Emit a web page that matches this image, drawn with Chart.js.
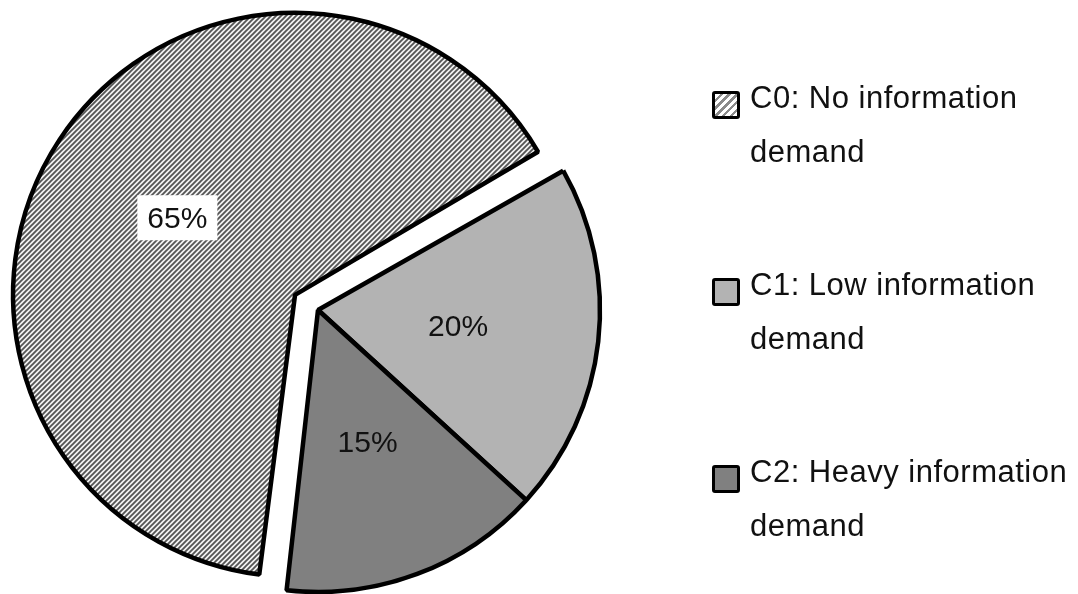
<!DOCTYPE html>
<html lang="en">
<head>
  <meta charset="UTF-8">
  <title>Information demand</title>
  <script src="https://cdn.jsdelivr.net/npm/chart.js"></script>
  <style>
    html, body {
      margin: 0;
      padding: 0;
      background: #fff;
    }
    #wrap {
      position: relative;
      width: 1078px;
      height: 594px;
    }
    #legend {
      position: absolute;
      left: 712px;
      top: 71px;
      font-family: "Liberation Sans", Arial, sans-serif;
      font-size: 31px;
      letter-spacing: 0.5px;
      color: #111;
    }
    .item {
      position: relative;
      height: 187px;
      padding-left: 38px;
      line-height: 54px;
    }
    .box {
      position: absolute;
      left: 0;
      top: 20px;
      width: 22px;
      height: 22px;
      border: 3.5px solid #000;
      border-radius: 3px;
    }
  </style>
</head>
<body>
  <div id="wrap">
    <canvas id="pie" width="1078" height="594"></canvas>
    <div id="legend"></div>
  </div>

  <script>
    // datos
    const categorias = ['C0: No information demand', 'C1: Low information demand', 'C2: Heavy information demand'];
    const lineasLeyenda = [['C0: No information', 'demand'], ['C1: Low information', 'demand'], ['C2: Heavy information', 'demand']];
    const porcentajes = [65, 20, 15];
    const etiquetas = ['65%', '20%', '15%'];

    // patron rayado para C0
    function rayado() {
      const c = document.createElement('canvas');
      c.width = 5;
      c.height = 5;
      const g = c.getContext('2d');
      g.fillStyle = '#fff';
      g.fillRect(0, 0, 5, 5);
      g.strokeStyle = '#4d4d4d';
      g.lineWidth = 1.9;
      g.beginPath();
      g.moveTo(-1, 6); g.lineTo(6, -1);
      g.moveTo(-1, 1); g.lineTo(1, -1);
      g.moveTo(4, 6); g.lineTo(6, 4);
      g.stroke();
      return g.createPattern(c, 'repeat');
    }

    const ctx = document.getElementById('pie').getContext('2d');
    const colores = [rayado(), '#b3b3b3', '#808080'];

    // Chart.js agranda el arco desplazado; se corrige para que quede del mismo radio
    const radioFijo = {
      id: 'radioFijo',
      afterDatasetUpdate(chart, args) {
        const meta = chart.getDatasetMeta(args.index);
        meta.data.forEach(function (arc, i) {
          const off = (chart.data.datasets[args.index].offset[i] || 0) / 4;
          const fix = 1 - Math.sin(Math.min(Math.PI, arc.circumference));
          arc.outerRadius = arc.outerRadius - off * fix;
        });
      }
    };

    // etiquetas de porcentaje dentro de cada sector
    const etiquetasPlugin = {
      id: 'etiquetas',
      afterDatasetsDraw(chart) {
        const ds = chart.data.datasets[0];
        const meta = chart.getDatasetMeta(0);
        const c = chart.ctx;
        c.save();
        c.font = '30px "Liberation Sans", Arial, sans-serif';
        c.textAlign = 'center';
        c.textBaseline = 'middle';
        meta.data.forEach(function (arc, i) {
          const mid = (arc.startAngle + arc.endAngle) / 2;
          const shift = (ds.offset[i] || 0) / 4;
          const r = 141 + shift;
          const x = arc.x + Math.cos(mid) * r;
          const y = arc.y + Math.sin(mid) * r;
          if (ds.labelBg[i]) {
            c.fillStyle = ds.labelBg[i];
            c.fillRect(x - 40, y - 22, 80, 45);
          }
          c.fillStyle = '#111';
          c.fillText(etiquetas[i], x, y + 2);
        });
        c.restore();
      }
    };

    new Chart(ctx, {
      type: 'pie',
      data: {
        labels: categorias,
        datasets: [{
          data: porcentajes,
          backgroundColor: colores,
          borderColor: '#000',
          borderWidth: 4.5,
          offset: [110, 0, 0],
          labelBg: ['#fff', null, null],
          clip: false
        }]
      },
      options: {
        responsive: false,
        animation: false,
        rotation: 186.4,
        radius: 282,
        layout: { padding: { left: 0, right: 442, top: 26, bottom: 0 } },
        plugins: {
          legend: { display: false },
          tooltip: { enabled: false }
        }
      },
      plugins: [radioFijo, etiquetasPlugin]
    });

    // leyenda
    const leyenda = document.getElementById('legend');
    const fondos = [
      'repeating-linear-gradient(-45deg, #fff 0px, #fff 3px, #8a8a8a 3px, #8a8a8a 5.5px)',
      '#b3b3b3',
      '#808080'
    ];
    lineasLeyenda.forEach(function (lineas, i) {
      const item = document.createElement('div');
      item.className = 'item';
      const box = document.createElement('span');
      box.className = 'box';
      box.style.background = fondos[i];
      item.appendChild(box);
      item.insertAdjacentHTML('beforeend', lineas.join('<br>'));
      leyenda.appendChild(item);
    });
  </script>
</body>
</html>
